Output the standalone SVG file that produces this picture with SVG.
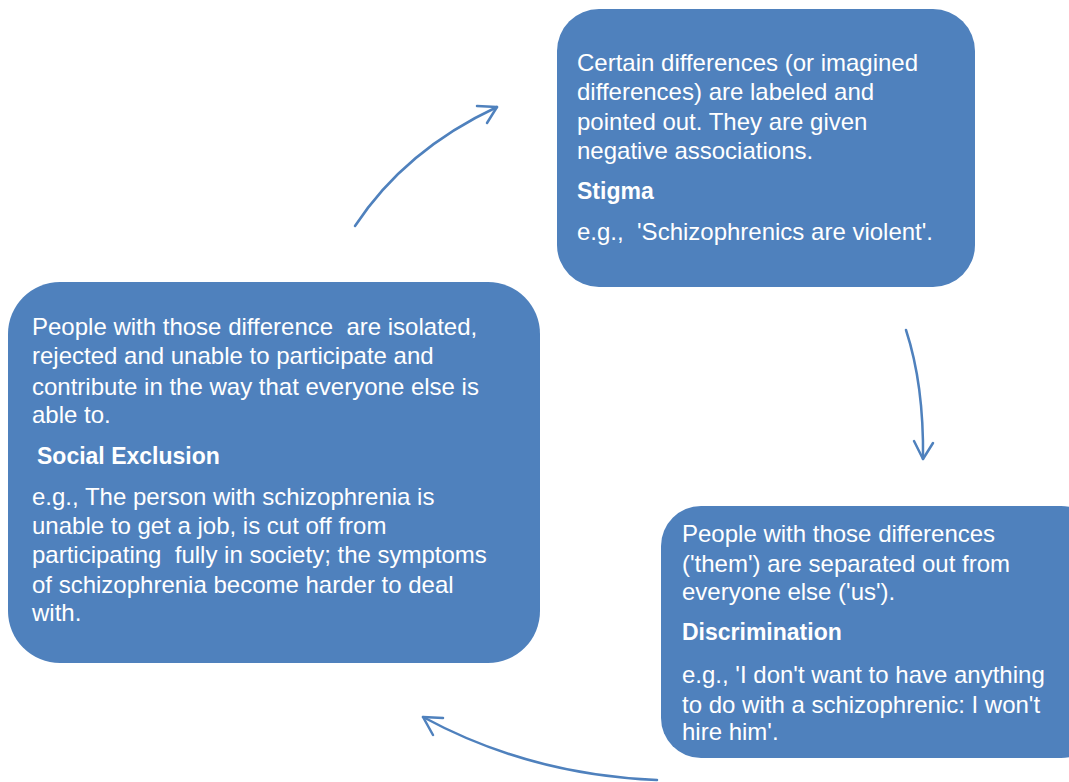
<svg xmlns="http://www.w3.org/2000/svg" width="1069" height="782" viewBox="0 0 1069 782">
  <style>
    .box { fill: #4F81BD; }
    .txt { fill: #FFFFFF; font-family: "Liberation Sans", Arial, sans-serif; font-size: 24px; white-space: pre; }
    .hd { font-weight: bold; font-size: 23px; }
    .conn { fill: none; stroke: #4F81BD; stroke-width: 2.5; stroke-linecap: round; stroke-linejoin: round; }
  </style>
  <rect width="1069" height="782" fill="#FFFFFF"/>

  <!-- Stigma -->
  <g id="stigma">
    <rect class="box" x="557" y="9" width="418" height="278" rx="42" ry="42"/>
    <text class="txt" x="577" y="71">Certain differences (or imagined</text>
    <text class="txt" x="577" y="100">differences) are labeled and</text>
    <text class="txt" x="577" y="130">pointed out. They are given</text>
    <text class="txt" x="577" y="159">negative associations.</text>
    <text class="txt hd" x="577" y="199">Stigma</text>
    <text class="txt" x="577" y="240">e.g.,  'Schizophrenics are violent'.</text>
  </g>

  <!-- Discrimination -->
  <g id="discrimination">
    <rect class="box" x="661" y="506" width="440" height="252" rx="40" ry="40"/>
    <text class="txt" x="682" y="542">People with those differences</text>
    <text class="txt" x="682" y="572">('them') are separated out from</text>
    <text class="txt" x="682" y="600">everyone else ('us').</text>
    <text class="txt hd" x="682" y="640">Discrimination</text>
    <text class="txt" x="682" y="683">e.g., 'I don't want to have anything</text>
    <text class="txt" x="682" y="713">to do with a schizophrenic: I won't</text>
    <text class="txt" x="682" y="740">hire him'.</text>
  </g>

  <!-- Social Exclusion -->
  <g id="social-exclusion">
    <rect class="box" x="8" y="282" width="532" height="381" rx="52" ry="52"/>
    <text class="txt" x="32" y="335">People with those difference  are isolated,</text>
    <text class="txt" x="32" y="364">rejected and unable to participate and</text>
    <text class="txt" x="32" y="395">contribute in the way that everyone else is</text>
    <text class="txt" x="32" y="423">able to.</text>
    <text class="txt hd" x="37" y="464">Social Exclusion</text>
    <text class="txt" x="32" y="505">e.g., The person with schizophrenia is</text>
    <text class="txt" x="32" y="534">unable to get a job, is cut off from</text>
    <text class="txt" x="32" y="563">participating  fully in society; the symptoms</text>
    <text class="txt" x="32" y="593">of schizophrenia become harder to deal</text>
    <text class="txt" x="32" y="621">with.</text>
  </g>

  <!-- curved connectors with open arrowheads -->
  <g id="connectors">
    <path class="conn" d="M355,226 Q405,150 497,107"/>
    <path class="conn" d="M477,106 L497,107 L487,123"/>
    <path class="conn" d="M906,330 Q924,385 923,459"/>
    <path class="conn" d="M914,441 L923,459 L933,443"/>
    <path class="conn" d="M657,780 Q530,775 423,717"/>
    <path class="conn" d="M443,718 L423,717 L433,735"/>
  </g>
</svg>
